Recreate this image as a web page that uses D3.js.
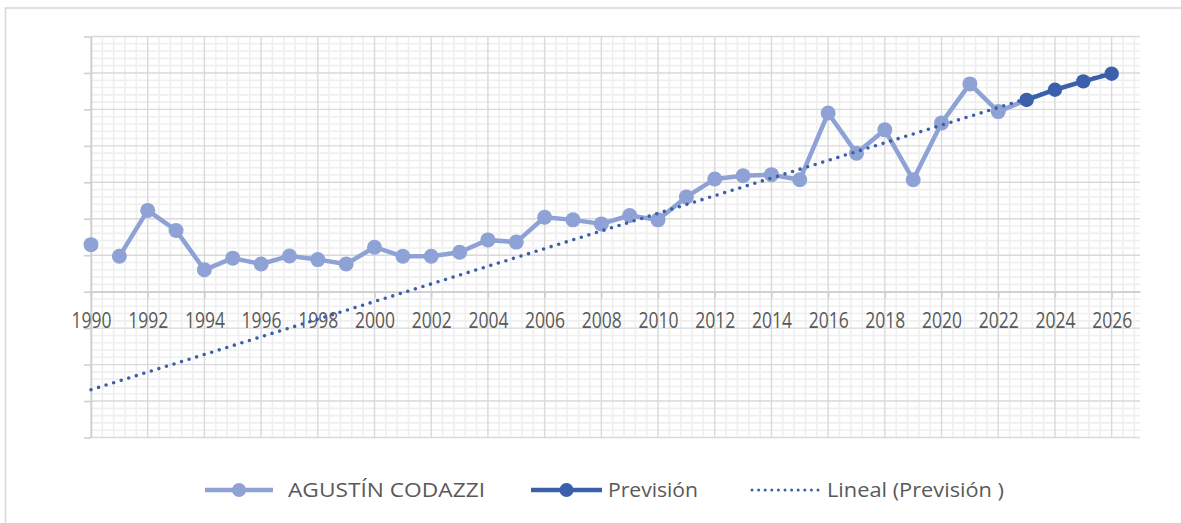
<!DOCTYPE html>
<html><head><meta charset="utf-8">
<script src="https://cdn.jsdelivr.net/npm/d3@7/dist/d3.min.js"></script>
<style>body{margin:0;background:#fff;overflow:hidden}text{font-family:"Open Sans",sans-serif;fill:#595959}</style>
</head><body>
<svg id="chart" width="1181" height="523"></svg>
<script>
// ---- data ----
const histYears = [1990,1991,1992,1993,1994,1995,1996,1997,1998,1999,2000,2001,2002,2003,2004,2005,2006,2007,2008,2009,2010,2011,2012,2013,2014,2015,2016,2017,2018,2019,2020,2021,2022];
const histValues = [1.29,0.97,2.23,1.68,0.60,0.92,0.76,0.98,0.88,0.76,1.22,0.97,0.97,1.08,1.42,1.36,2.04,1.97,1.86,2.09,1.97,2.60,3.09,3.18,3.21,3.07,4.90,3.80,4.44,3.07,4.63,5.70,4.94];
const forecastYears = [2023,2024,2025,2026];
const forecastValues = [5.26,5.54,5.77,5.98];
const trendYears = [1990,2026];
const trendValues = [-2.69,6.02];
const xTickLabels = ["1990","1992","1994","1996","1998","2000","2002","2004","2006","2008","2010","2012","2014","2016","2018","2020","2022","2024","2026"];
const seriesNames = ["AGUSTÍN CODAZZI","Previsión","Lineal (Previsión )"];

// ---- layout ----
const svg = d3.select("#chart");
const x = d3.scaleLinear().domain([1990, 2027]).range([91, 1140]);
const y = d3.scaleLinear().domain([-4, 7]).range([437.5, 36.5]);
const lightC = "#8EA2D5", darkC = "#3B5FAA";

// outer border
svg.append("rect").attr("x",5.5).attr("y",8).attr("width",1250).attr("height",600)
  .attr("fill","none").attr("stroke","#d9d9d9").attr("stroke-width",1.6);

const g = svg.append("g");
// minor grid
const minorX = d3.range(0, 186).map(i => 1990 + i*0.2).filter((v,i)=> i%2===0 && (i%10)!==0 && v<=2027.001);
const minorY = d3.range(0, 56).map(i => -4 + i*0.2).filter((v,i)=> (i%5)!==0);
g.selectAll(".mx").data(minorX).enter().append("line")
  .attr("x1",d=>x(d)).attr("x2",d=>x(d)).attr("y1",y(7)).attr("y2",y(-4))
  .attr("stroke","#efefef").attr("stroke-width",1.6);
g.selectAll(".my").data(minorY).enter().append("line")
  .attr("x1",x(1990)).attr("x2",x(2027)).attr("y1",d=>y(d)).attr("y2",d=>y(d))
  .attr("stroke","#efefef").attr("stroke-width",1.6);
// major grid
const majorX = xTickLabels.map(Number);
const majorY = d3.range(-4, 8);
g.selectAll(".Mx").data(majorX).enter().append("line")
  .attr("x1",d=>x(d)).attr("x2",d=>x(d)).attr("y1",y(7)).attr("y2",y(-4))
  .attr("stroke","#d9d9d9").attr("stroke-width",1.4);
g.selectAll(".My").data(majorY).enter().append("line")
  .attr("x1",x(1990)).attr("x2",x(2027)).attr("y1",d=>y(d)).attr("y2",d=>y(d))
  .attr("stroke","#d9d9d9").attr("stroke-width",1.4);

// y axis (ticks only, no labels)
const yAxis = d3.axisLeft(y).tickValues(majorY).tickSize(7).tickSizeOuter(0).tickFormat("");
const ya = svg.append("g").attr("transform",`translate(${x(1990)},0)`).call(yAxis);
ya.selectAll("line,path").attr("stroke","#cfcfcf").attr("stroke-width",1.6);

// x axis at zero
const xAxis = d3.axisBottom(x).tickValues(majorX).tickSize(6).tickSizeOuter(0).tickFormat(d=>String(d));
const xa = svg.append("g").attr("transform",`translate(0,${y(0)})`).call(xAxis);
xa.select(".domain").attr("stroke","#cfcfcf").attr("stroke-width",1.6);
xa.selectAll(".tick line").attr("stroke","#cfcfcf").attr("stroke-width",1.6);
xa.selectAll(".tick text").attr("font-family","Open Sans").attr("font-size",21).attr("fill","#5f5f5f")
  .attr("dy",null).attr("y",36).attr("textLength",40).attr("lengthAdjust","spacingAndGlyphs");

// historic series (line starts at 1991; joins to first forecast point)
const line = d3.line().x(d=>x(d[0])).y(d=>y(d[1]));
const histPts = histYears.map((yr,i)=>[yr,histValues[i]]);
const fcPts = forecastYears.map((yr,i)=>[yr,forecastValues[i]]);
const histLine = histPts.filter(d=>d[0]>=1991).concat([fcPts[0]]);
svg.append("path").attr("d",line(histLine)).attr("fill","none").attr("stroke",lightC)
  .attr("stroke-width",4.5).attr("stroke-linejoin","round");
svg.selectAll(".hm").data(histPts).enter().append("circle")
  .attr("cx",d=>x(d[0])).attr("cy",d=>y(d[1])).attr("r",7.5).attr("fill",lightC);

// trend (dotted)
const trendPts = trendYears.map((yr,i)=>[yr,trendValues[i]]);
svg.append("path").attr("d",line(trendPts)).attr("fill","none").attr("stroke",darkC)
  .attr("stroke-width",3.6).attr("stroke-linecap","round").attr("stroke-dasharray","0 7.9");

// forecast
svg.append("path").attr("d",line(fcPts)).attr("fill","none").attr("stroke",darkC)
  .attr("stroke-width",4.5).attr("stroke-linejoin","round");
svg.selectAll(".fm").data(fcPts).enter().append("circle")
  .attr("cx",d=>x(d[0])).attr("cy",d=>y(d[1])).attr("r",7.2).attr("fill",darkC);

// legend
const ly = 490;
const leg = svg.append("g");
const items = [
  {x1:205,x2:273,type:"light",tx:288,tw:197},
  {x1:531,x2:602,type:"dark",tx:608,tw:90},
  {x1:750,x2:821,type:"dot",tx:827,tw:177}
];
items.forEach((it,i)=>{
  if(it.type==="dot"){
    leg.append("line").attr("x1",it.x1+2).attr("x2",it.x2-1).attr("y1",ly).attr("y2",ly)
      .attr("stroke",darkC).attr("stroke-width",3).attr("stroke-linecap","round").attr("stroke-dasharray","0 6.6");
  } else {
    const c = it.type==="light"?lightC:darkC;
    leg.append("line").attr("x1",it.x1).attr("x2",it.x2).attr("y1",ly).attr("y2",ly)
      .attr("stroke",c).attr("stroke-width",4.5);
    leg.append("circle").attr("cx",(it.x1+it.x2)/2).attr("cy",ly).attr("r",7).attr("fill",c);
  }
  leg.append("text").attr("x",it.tx).attr("y",ly+7).attr("font-size",20).attr("fill","#5f5f5f")
    .attr("textLength",it.tw).attr("lengthAdjust","spacingAndGlyphs").text(seriesNames[i]);
});
</script>
</body></html>
